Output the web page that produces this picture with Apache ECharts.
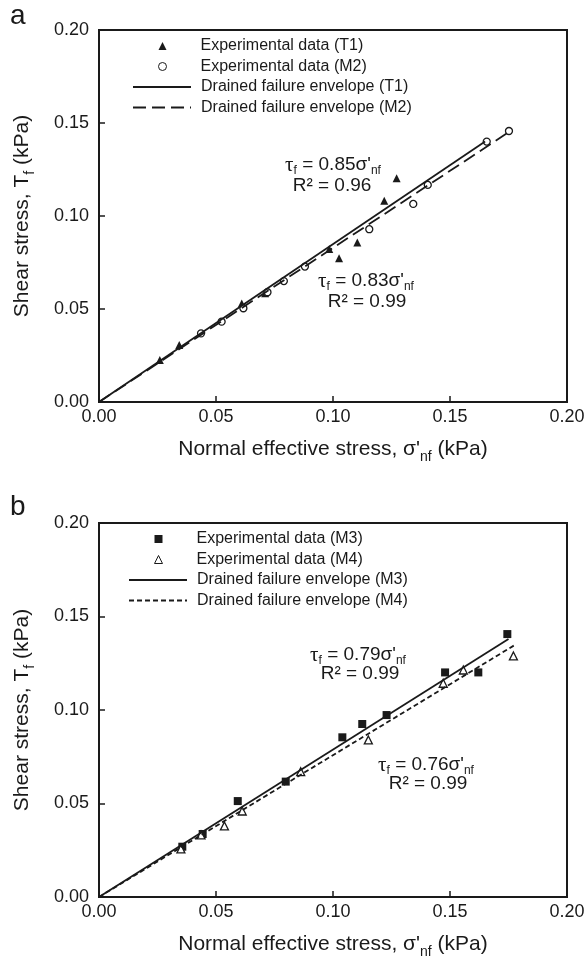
<!DOCTYPE html>
<html>
<head>
<meta charset="utf-8">
<script src="https://cdn.jsdelivr.net/npm/echarts@6/dist/echarts.min.js"></script>
<style>
html,body{margin:0;padding:0;background:#fff;}
#c{width:588px;height:960px;}
</style>
</head>
<body>
<div id="c"></div>
<script>
// ---- Data ----
const tickValues = [0.00, 0.05, 0.10, 0.15, 0.20];

// Panel a
const T1 = [[0.026,0.0226],[0.0343,0.0306],[0.061,0.053],[0.071,0.0585],[0.0984,0.0823],[0.1026,0.0773],[0.1104,0.0857],[0.1219,0.1082],[0.1272,0.1203]];
const M2 = [[0.0436,0.0369],[0.0524,0.0432],[0.0617,0.0504],[0.072,0.059],[0.079,0.065],[0.088,0.0728],[0.1155,0.0929],[0.1343,0.1065],[0.1405,0.1167],[0.1657,0.140],[0.1752,0.1457]];
const envT1 = [[0,0],[0.165,0.140]];
const envM2 = [[0,0],[0.175,0.145]];

// Panel b
const M3 = [[0.0356,0.0269],[0.0443,0.0337],[0.0593,0.0513],[0.0798,0.0617],[0.104,0.0854],[0.1125,0.0925],[0.1229,0.0973],[0.1479,0.1201],[0.1621,0.1201],[0.1745,0.1406]];
const M4 = [[0.035,0.0257],[0.0436,0.0332],[0.0536,0.038],[0.0612,0.046],[0.0862,0.067],[0.1151,0.084],[0.1471,0.1143],[0.1557,0.1214],[0.1771,0.1289]];
const envM3 = [[0,0],[0.175,0.138]];
const envM4 = [[0,0],[0.178,0.135]];

const names = {
  T1: 'Experimental data (T1)', M2: 'Experimental data (M2)',
  eT1: 'Drained failure envelope (T1)', eM2: 'Drained failure envelope (M2)',
  M3: 'Experimental data (M3)', M4: 'Experimental data (M4)',
  eM3: 'Drained failure envelope (M3)', eM4: 'Drained failure envelope (M4)'
};

// ---- Styling ----
const INK = '#1a1a1a';
const FONT = '"Liberation Sans", Arial, Helvetica, sans-serif';
const SERIF = '"Liberation Serif", "Times New Roman", serif';

const titleRich = {
  m: {fontSize: 21, fontFamily: FONT, color: INK, lineHeight: 29},
  s: {fontSize: 14, fontFamily: FONT, color: INK, lineHeight: 14, verticalAlign: 'bottom'}
};

function xAxisCfg(gi) {
  return {
    gridIndex: gi, type: 'value', min: 0, max: 0.2, interval: 0.05,
    name: "{m|Normal effective stress, σ'}{s|nf}{m| (kPa)}",
    nameLocation: 'middle', nameGap: 33,
    nameTextStyle: {rich: titleRich},
    axisLine: {show: true, lineStyle: {color: INK, width: 2}},
    axisTick: {show: true, inside: true, length: 6, lineStyle: {color: INK, width: 1.5}},
    axisLabel: {margin: 6, fontSize: 18, fontFamily: FONT, color: INK,
      formatter: v => v.toFixed(2)},
    splitLine: {show: false}
  };
}
function yAxisCfg(gi) {
  return {
    gridIndex: gi, type: 'value', min: 0, max: 0.2, interval: 0.05,
    name: "{m|Shear stress, T}{s|f}{m| (kPa)}",
    nameLocation: 'middle', nameGap: 62,
    nameTextStyle: {rich: titleRich},
    axisLine: {show: true, lineStyle: {color: INK, width: 2}},
    axisTick: {show: true, inside: true, length: 6, lineStyle: {color: INK, width: 1.5}},
    axisLabel: {margin: 10, fontSize: 18, fontFamily: FONT, color: INK,
      formatter: v => v.toFixed(2)},
    splitLine: {show: false}
  };
}

function scatter(name, data, gi, symbol, size, filled) {
  return {
    type: 'scatter', name, data, xAxisIndex: gi, yAxisIndex: gi,
    symbol, symbolSize: size, z: 3,
    itemStyle: filled ? {color: INK, opacity: 1} : {color: '#fff', borderColor: INK, borderWidth: 1.3, opacity: 1}
  };
}
function envLine(name, data, gi, dash) {
  return {
    type: 'line', name, data, xAxisIndex: gi, yAxisIndex: gi,
    symbol: 'none', showSymbol: false, z: 4,
    lineStyle: {color: INK, width: 1.8, type: dash || 'solid'},
    itemStyle: {color: INK, opacity: 0}
  };
}

const annRich = {
  g: {fontSize: 21, fontFamily: SERIF, color: INK, lineHeight: 24},
  t: {fontSize: 19, fontFamily: FONT, color: INK, lineHeight: 24},
  s: {fontSize: 12, fontFamily: FONT, color: INK, lineHeight: 12, verticalAlign: 'bottom'}
};
function ann(x, y, text) {
  return {type: 'text', x, y, z: 10,
    style: {text, rich: annRich, align: 'center', verticalAlign: 'middle', fill: INK}};
}

// Marker legends (small square icon box) and line legends (long icon box)
function markerLegend(left, top, data) {
  return {
    orient: 'vertical', left, top, data, padding: 0,
    itemWidth: 8, itemHeight: 8, itemGap: 4.5,
    itemStyle: {borderWidth: 1},
    textStyle: {fontSize: 16, fontFamily: FONT, color: INK, lineHeight: 16, padding: [0,0,0,29]},
    selectedMode: false
  };
}
function lineLegend(left, top, data) {
  return {
    orient: 'vertical', left, top, data, padding: 0,
    itemWidth: 58, itemHeight: 8, itemGap: 4.5,
    textStyle: {fontSize: 16, fontFamily: FONT, color: INK, lineHeight: 16, padding: [0,0,0,5]},
    selectedMode: false
  };
}

const option = {
  backgroundColor: '#fff',
  animation: false,
  grid: [
    {left: 99, top: 30, width: 468, height: 372, show: true, borderColor: INK, borderWidth: 2, backgroundColor: 'transparent'},
    {left: 99, top: 523, width: 468, height: 374, show: true, borderColor: INK, borderWidth: 2, backgroundColor: 'transparent'}
  ],
  xAxis: [xAxisCfg(0), xAxisCfg(1)],
  yAxis: [yAxisCfg(0), yAxisCfg(1)],
  legend: [
    markerLegend(158, 38, [names.T1, names.M2]),
    lineLegend(132, 79, [names.eT1, names.eM2]),
    markerLegend(154, 531, [names.M3, names.M4]),
    lineLegend(128, 572, [names.eM3, names.eM4])
  ],
  series: [
    scatter(names.T1, T1, 0, 'triangle', 8, true),
    scatter(names.M2, M2, 0, 'circle', 7, false),
    envLine(names.eT1, envT1, 0, 'solid'),
    envLine(names.eM2, envM2, 0, [13, 6]),
    scatter(names.M3, M3, 1, 'rect', 8, true),
    scatter(names.M4, M4, 1, 'triangle', 8, false),
    envLine(names.eM3, envM3, 1, 'solid'),
    envLine(names.eM4, envM4, 1, [5, 3])
  ],
  graphic: [
    {type: 'text', x: 10, y: 2, style: {text: 'a', fontSize: 28, fontFamily: FONT, fill: INK}},
    {type: 'text', x: 10, y: 493, style: {text: 'b', fontSize: 28, fontFamily: FONT, fill: INK}},
    ann(333, 165, "{g|τ}{s|f}{t| = 0.85σ'}{s|nf}"),
    ann(332, 186, "{t|R² = 0.96}"),
    ann(366, 281, "{g|τ}{s|f}{t| = 0.83σ'}{s|nf}"),
    ann(367, 302, "{t|R² = 0.99}"),
    ann(358, 655, "{g|τ}{s|f}{t| = 0.79σ'}{s|nf}"),
    ann(360, 674, "{t|R² = 0.99}"),
    ann(426, 765, "{g|τ}{s|f}{t| = 0.76σ'}{s|nf}"),
    ann(428, 784, "{t|R² = 0.99}")
  ]
};

const chart = echarts.init(document.getElementById('c'), null, {renderer: 'canvas'});
chart.setOption(option);
</script>
</body>
</html>
